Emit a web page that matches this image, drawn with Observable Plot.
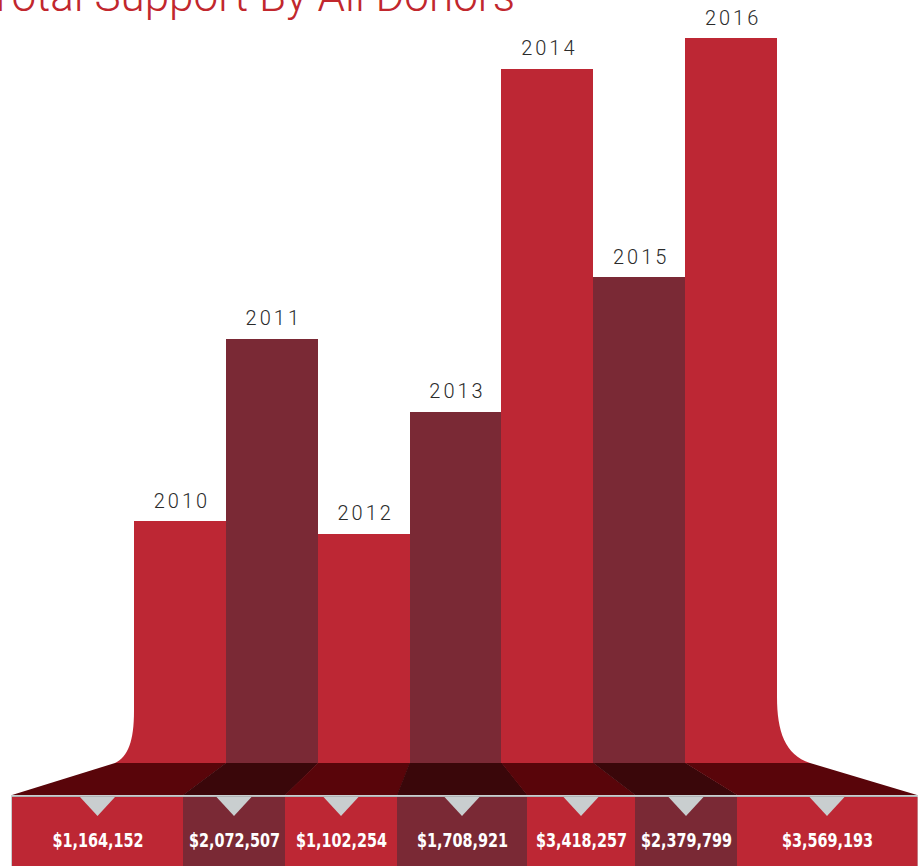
<!DOCTYPE html>
<html><head><meta charset="utf-8">
<script src="https://cdn.jsdelivr.net/npm/d3@7"></script>
<script src="https://cdn.jsdelivr.net/npm/@observablehq/plot@0.6"></script>
<style>
html,body{margin:0;padding:0;background:#fff;width:921px;height:866px;overflow:hidden}
#wrap{position:relative;width:921px;height:866px}
#title{position:absolute;right:406px;top:-26px;font-family:Roboto,"Liberation Sans",sans-serif;font-weight:300;font-size:44px;line-height:44px;color:#c1272d;white-space:nowrap;z-index:2}
#chart svg{display:block}
</style></head><body>
<div id="wrap"><div id="title">Total Support By All Donors</div><div id="chart"></div></div>
<script>
// ---- data ----
const years = ["2010", "2011", "2012", "2013", "2014", "2015", "2016"];
const amounts = [1164152, 2072507, 1102254, 1708921, 3418257, 2379799, 3569193];
const amountLabels = ["$1,164,152", "$2,072,507", "$1,102,254", "$1,708,921", "$3,418,257", "$2,379,799", "$3,569,193"];

// ---- layout / style ----
const W = 921, H = 866;
const barLeft = 134, barRight = 777;
const baseY = 755, yMax = 3760000;
const bandTop = 763, bandBottom = 795, lineBottom = 797;
const boxEdges = [12, 183, 285, 397, 527, 635, 737, 917];
const colors = {light: "#bd2734", dark: "#7a2935"};
const bandColors = {light: "#59050a", dark: "#3a070a"};
const grey = "#c9cecf";
const yearSpacing = 3;

const band = d3.scaleBand().domain(years).range([barLeft, barRight]).padding(0);
const rows = years.map((year, i) => ({
  year, amount: amounts[i], label: amountLabels[i],
  tone: i % 2 ? "dark" : "light",
  x1: band(year), x2: band(year) + band.bandwidth(),
  bx1: boxEdges[i], bx2: boxEdges[i + 1]
}));

const localX = d3.scaleLinear().domain([0, W]).range([0, W]);
const localY = d3.scaleLinear().domain([0, yMax]).range([baseY, 0]);

function decor(index, scales) {
  const sx = (scales && typeof scales.x === "function") ? scales.x : localX;
  const sy = (scales && typeof scales.y === "function") ? scales.y : localY;
  const y0 = sy(0);
  const yTop = y0 + (bandTop - baseY), yBot = y0 + (bandBottom - baseY), yLine = y0 + (lineBottom - baseY);
  const g = d3.create("svg:g");
  const L = sx(rows[0].x1), R = sx(rows[rows.length - 1].x2);
  const flL = L - 19, flR = R + 33;
  // flares
  g.append("path").attr("fill", colors.light)
    .attr("d", `M${L},${yTop - 52} C${L},${yTop - 22} ${L - 6},${yTop - 6} ${flL},${yTop} L${L + 1},${yTop} Z`);
  g.append("path").attr("fill", colors.light)
    .attr("d", `M${R},${yTop - 66} C${R},${yTop - 32} ${R + 8},${yTop - 8} ${flR},${yTop} L${R - 1},${yTop} Z`);
  // funnel segments
  rows.forEach((d, i) => {
    const last = i === rows.length - 1;
    const tl = i === 0 ? flL : sx(d.x1), tr = last ? flR : sx(d.x2);
    g.append("path").attr("fill", bandColors[d.tone])
      .attr("d", `M${tl},${yTop} L${tr + (last ? 0 : 0.5)},${yTop} L${sx(d.bx2) + (last ? 0 : 0.5)},${yBot} L${sx(d.bx1)},${yBot} Z`);
  });
  // grey frame and line
  g.append("rect").attr("x", sx(boxEdges[0]) - 1).attr("y", yBot).attr("width", sx(boxEdges[7]) - sx(boxEdges[0]) + 2).attr("height", H - yBot).attr("fill", grey);
  // boxes
  rows.forEach(d => {
    g.append("rect").attr("x", sx(d.bx1)).attr("y", yLine).attr("width", sx(d.bx2) - sx(d.bx1) + 0.5).attr("height", H - yLine).attr("fill", colors[d.tone]);
  });
  g.append("rect").attr("x", sx(boxEdges[0])).attr("y", yLine - 0.8).attr("width", sx(boxEdges[7]) - sx(boxEdges[0])).attr("height", 0.8).attr("fill", "#a9aeae");
  // triangles
  rows.forEach(d => {
    const c = (sx(d.bx1) + sx(d.bx2)) / 2;
    g.append("path").attr("fill", grey).attr("d", `M${c - 17.5},${yLine} L${c + 17.5},${yLine} L${c},${yLine + 19} Z`);
  });
  return g.node();
}

const chart = Plot.plot({
  width: W, height: H,
  marginTop: 0, marginRight: 0, marginBottom: 0, marginLeft: 0,
  x: {type: "linear", domain: [0, W], range: [0, W], axis: null},
  y: {type: "linear", domain: [0, yMax], range: [baseY, 0], axis: null},
  color: {type: "identity"},
  style: {background: "transparent", overflow: "visible"},
  marks: [
    decor,
    Plot.rect(rows, {x1: "x1", x2: "x2", y1: 0, y2: "amount", fill: d => colors[d.tone],
      insetBottom: -(bandTop - baseY), shapeRendering: "crispEdges"}),
    Plot.text(rows, {
      x: d => (d.x1 + d.x2) / 2, y: "amount", text: "year", dy: -14, dx: yearSpacing / 2, lineAnchor: "bottom",
      fill: "#2b2b2b", fontSize: 20, fontWeight: 300, fontFamily: "Roboto, 'Liberation Sans', sans-serif"
    }),
    Plot.text(rows, {
      x: d => (d.bx1 + d.bx2) / 2, frameAnchor: "bottom", dy: -20, lineAnchor: "bottom", text: "label",
      fill: "white", fontSize: 20, fontWeight: "bold",
      fontFamily: "'Liberation Sans Narrow', 'DejaVu Sans Condensed', 'Arial Narrow', sans-serif"
    })
  ]
});
document.getElementById("chart").appendChild(chart);
// typographic touches: spaced years, condensed amounts
chart.querySelectorAll("text").forEach(t => {
  const s = t.textContent.trim();
  if (years.includes(s)) {
    t.setAttribute("letter-spacing", String(yearSpacing));
    t.style.letterSpacing = yearSpacing + "px";
  } else if (amountLabels.includes(s)) {
    const len = t.getComputedTextLength();
    if (len > 0) {
      t.setAttribute("textLength", (len * 0.8).toFixed(1));
      t.setAttribute("lengthAdjust", "spacingAndGlyphs");
    }
  }
});
</script>
</body></html>
